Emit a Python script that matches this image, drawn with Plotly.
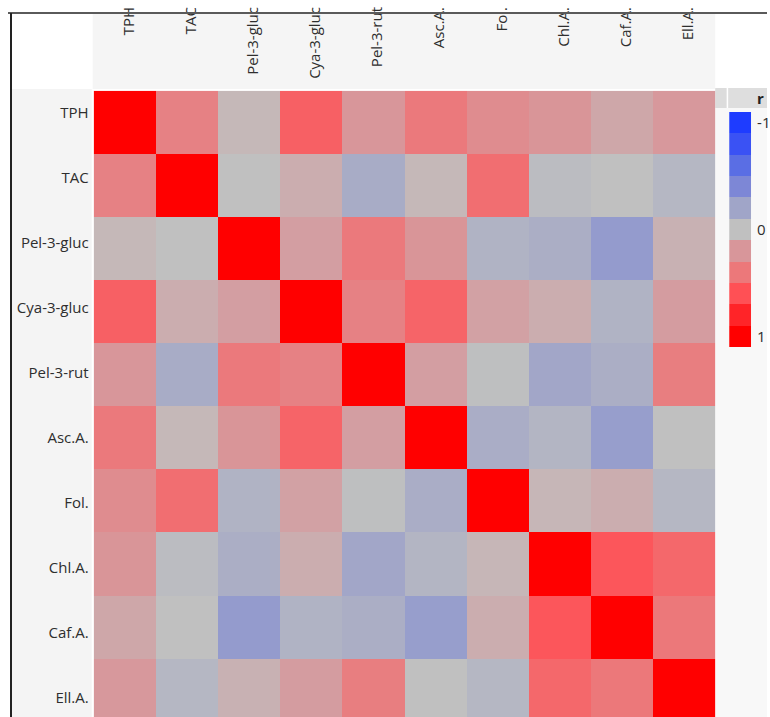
import plotly.graph_objects as go

# ---------------- data ----------------
labels = ["TPH", "TAC", "Pel-3-gluc", "Cya-3-gluc", "Pel-3-rut",
          "Asc.A.", "Fol.", "Chl.A.", "Caf.A.", "Ell.A."]

r_matrix = [
    [1.00, 0.34, 0.04, 0.52, 0.20, 0.39, 0.27, 0.21, 0.12, 0.19],
    [0.34, 1.00, 0.00, 0.09, -0.15, 0.04, 0.45, -0.03, 0.00, -0.07],
    [0.04, 0.00, 1.00, 0.16, 0.39, 0.21, -0.10, -0.13, -0.27, 0.07],
    [0.52, 0.09, 0.16, 1.00, 0.34, 0.50, 0.15, 0.09, -0.10, 0.17],
    [0.20, -0.15, 0.39, 0.34, 1.00, 0.16, -0.01, -0.19, -0.13, 0.36],
    [0.39, 0.04, 0.21, 0.50, 0.16, 1.00, -0.14, -0.08, -0.25, 0.00],
    [0.27, 0.45, -0.10, 0.15, -0.01, -0.14, 1.00, 0.05, 0.09, -0.07],
    [0.21, -0.03, -0.13, 0.09, -0.19, -0.08, 0.05, 1.00, 0.57, 0.48],
    [0.12, 0.00, -0.27, -0.10, -0.13, -0.25, 0.09, 0.57, 1.00, 0.40],
    [0.19, -0.07, 0.07, 0.17, 0.36, 0.00, -0.07, 0.48, 0.40, 1.00],
]

legend_levels = [-1.0, -0.8, -0.6, -0.4, -0.2, 0.0, 0.2, 0.4, 0.6, 0.8, 1.0]
legend_colors = ["#1e3cff", "#3a52f4", "#5a6ee4", "#7d87d6", "#a0a5c8", "#c0c0c0",
                 "#d8969a", "#ec787a", "#ff5055", "#ff2428", "#ff0000"]
legend_tickvals = [-1, 0, 1]
legend_ticktext = ["-1", "0", "1"]
legend_title = "r"

# ---------------- geometry helpers ----------------
W, H = 770, 717
ML, MR, MT, MB = 11, 0, 3, 0
PW, PH = W - ML - MR, H - MT - MB


def fx(px):
    return (px - ML) / PW


def fy(py):
    return (H - MB - py) / PH


cscale = [[(v + 1) / 2, c] for v, c in zip(legend_levels, legend_colors)]

n = len(labels)
idx = list(range(n))

hm_left, hm_right, hm_top = 94, 718, 90.7
row_h = 63.1
y_bottom_val = -0.5 + (H - hm_top) / row_h

lab_top, lab_step = 113, 65.0
y2_top_val = -(lab_top - hm_top) / lab_step
y2_bottom_val = y2_top_val + (H - hm_top) / lab_step

col_w = (hm_right - hm_left) / n
xshift = 4.0 / col_w

font_fam = "Open Sans, Noto Sans, sans-serif"
txt_col = "#2e2e2e"
lab_size = 15

fig = go.Figure()

fig.add_trace(go.Heatmap(
    z=r_matrix, x=idx, y=idx, colorscale=cscale, zmin=-1, zmax=1,
    showscale=False, xaxis="x", yaxis="y", hoverinfo="skip"))

# invisible helpers for label axes
fig.add_trace(go.Scatter(x=[None], y=[None], xaxis="x2", yaxis="y",
                         showlegend=False, hoverinfo="skip"))
fig.add_trace(go.Scatter(x=[None], y=[None], xaxis="x", yaxis="y2",
                         showlegend=False, hoverinfo="skip"))

# legend bar
fig.add_trace(go.Heatmap(
    z=[[v] for v in legend_levels], x=[0], y=legend_levels,
    colorscale=cscale, zmin=-1, zmax=1, showscale=False,
    xaxis="x3", yaxis="y3", hoverinfo="skip"))

shapes = [
    dict(type="rect", xref="paper", yref="paper", x0=fx(93), x1=fx(718),
         y0=fy(89), y1=fy(13), fillcolor="#f5f5f5", line_width=0, layer="below"),
    dict(type="rect", xref="paper", yref="paper", x0=fx(11), x1=fx(92),
         y0=fy(717), y1=fy(89), fillcolor="#f4f4f4", line_width=0, layer="below"),
    dict(type="rect", xref="paper", yref="paper", x0=fx(718), x1=fx(770),
         y0=fy(717), y1=fy(108), fillcolor="#f8f8f8", line_width=0, layer="below"),
    dict(type="rect", xref="paper", yref="paper", x0=fx(718), x1=fx(729.5),
         y0=fy(108), y1=fy(88), fillcolor="#dcdcdc", line_width=0, layer="below"),
    dict(type="rect", xref="paper", yref="paper", x0=fx(731), x1=fx(770),
         y0=fy(108), y1=fy(88), fillcolor="#dedede", line_width=0, layer="below"),
    dict(type="line", xref="paper", yref="paper", x0=fx(8), x1=fx(770),
         y0=fy(13), y1=fy(13), line=dict(color="#5a5a5a", width=2), layer="above"),
    dict(type="line", xref="paper", yref="paper", x0=fx(11), x1=fx(11),
         y0=fy(717), y1=fy(13), line=dict(color="#222222", width=2), layer="above"),
]

fig.update_layout(
    width=W, height=H,
    margin=dict(l=ML, r=MR, t=MT, b=MB, pad=0),
    paper_bgcolor="white", plot_bgcolor="rgba(0,0,0,0)",
    font=dict(family=font_fam, size=lab_size, color=txt_col),
    showlegend=False,
    shapes=shapes,
    xaxis=dict(domain=[fx(hm_left), fx(hm_right)], range=[-0.5, n - 0.5],
               showticklabels=False, showgrid=False, zeroline=False,
               showline=False, ticks="", anchor="y", fixedrange=True),
    yaxis=dict(domain=[0, fy(hm_top)], range=[y_bottom_val, -0.5],
               showticklabels=False, showgrid=False, zeroline=False,
               showline=False, ticks="", anchor="x", fixedrange=True),
    xaxis2=dict(overlaying="x", anchor="free", position=1, side="bottom",
                range=[-0.5 - xshift, n - 0.5 - xshift],
                tickmode="array", tickvals=idx, ticktext=labels,
                tickangle=-90, showgrid=False, zeroline=False, showline=False,
                ticks="", tickfont=dict(size=lab_size, color=txt_col)),
    yaxis2=dict(overlaying="y", anchor="x", side="left",
                range=[y2_bottom_val, y2_top_val],
                tickmode="array", tickvals=idx, ticktext=labels,
                showgrid=False, zeroline=False, showline=False, ticks="",
                ticklabelstandoff=4, tickfont=dict(size=lab_size, color=txt_col)),
    xaxis3=dict(domain=[fx(732), fx(754)], range=[-0.5, 0.5], anchor="y3",
                showticklabels=False, showgrid=False, zeroline=False,
                showline=False, ticks=""),
    yaxis3=dict(domain=[fy(347), fy(112)], range=[1.1, -1.1], anchor="x3",
                side="right", tickmode="array", tickvals=legend_tickvals,
                ticktext=legend_ticktext, showgrid=False, zeroline=False,
                showline=False, ticks="", ticklabelstandoff=5,
                tickfont=dict(size=lab_size, color=txt_col)),
    annotations=[dict(text="<b>%s</b>" % legend_title, xref="paper", yref="paper",
                      x=fx(758), y=fy(98), xanchor="left", yanchor="middle",
                      showarrow=False, font=dict(size=lab_size, color="#222222"))],
)

fig.write_html(
    "out.html",
    config={"displayModeBar": False, "staticPlot": True},
    post_script="document.body.style.margin='0';document.body.style.overflow='hidden';",
)
